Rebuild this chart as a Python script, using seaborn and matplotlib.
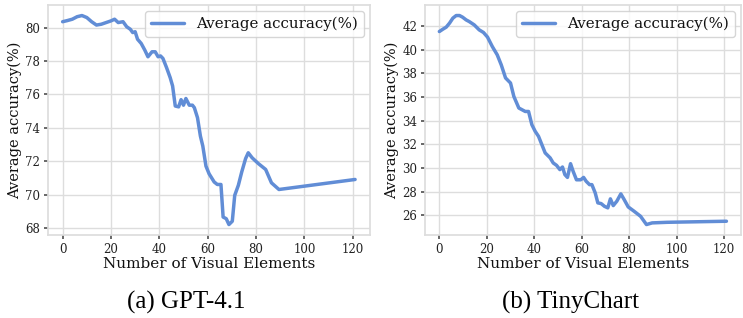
import seaborn as sns
import matplotlib.pyplot as plt
import pandas as pd

# GPT-4.1 (left panel)
gpt_x = [0, 2, 4, 6, 8, 10, 12, 14, 16, 18, 20, 21.5, 23, 25, 26.5, 28, 29, 30, 31,
         32.5, 34, 35.3, 37, 38.3, 39.5, 40.5, 41.5, 43, 44.5, 45.5, 46.6, 48, 49, 50,
         51, 52.4, 53.7, 54.5, 55.8, 57, 58, 59.3, 60.6, 62.7, 64, 65.5, 66.4, 67.7,
         68.8, 70.2, 71.2, 72.7, 74.1, 75.7, 76.8, 78.4, 81, 84, 86.4, 89.5, 121]
gpt_y = [80.35, 80.42, 80.5, 80.65, 80.72, 80.6, 80.35, 80.15, 80.2, 80.3, 80.4, 80.5,
         80.3, 80.35, 80.05, 79.9, 79.7, 79.75, 79.3, 79.05, 78.65, 78.25, 78.55, 78.55,
         78.25, 78.3, 78.15, 77.6, 77.0, 76.5, 75.3, 75.25, 75.68, 75.35, 75.75, 75.35,
         75.35, 75.2, 74.6, 73.5, 72.9, 71.7, 71.24, 70.75, 70.6, 70.6, 68.65, 68.55,
         68.2, 68.4, 69.95, 70.55, 71.35, 72.15, 72.5, 72.2, 71.85, 71.5, 70.7, 70.3, 70.9]

# TinyChart (right panel)
tiny_x = [0, 1.5, 2.9, 4.3, 5.7, 7.1, 8.5, 9.8, 11.3, 12.6, 14.7, 16.8, 18.6, 20.3,
          22.3, 24.4, 26.1, 27.9, 30, 31.4, 33.5, 36.2, 37.6, 39, 40.4, 41.8, 43.2,
          44.6, 46.7, 48, 49.4, 50.8, 51.9, 52.9, 54, 55.3, 56.4, 57.8, 59.6, 60.8,
          61.9, 63.3, 64.3, 65.7, 66.8, 68.2, 69.6, 71, 72.1, 73.3, 74.8, 76.5, 77.9,
          79.6, 82.1, 84.8, 87.3, 89.7, 96, 121]
tiny_y = [41.52, 41.72, 41.89, 42.23, 42.65, 42.87, 42.87, 42.73, 42.5, 42.36, 42.08,
          41.66, 41.44, 41.05, 40.26, 39.55, 38.7, 37.6, 37.17, 36.04, 35.06, 34.77,
          34.77, 33.65, 33.09, 32.67, 31.97, 31.27, 30.85, 30.42, 30.22, 29.86, 30.08,
          29.44, 29.2, 30.36, 29.71, 29.0, 29.0, 29.2, 28.87, 28.59, 28.59, 27.89,
          27.05, 26.99, 26.76, 26.63, 27.39, 26.82, 27.19, 27.81, 27.33, 26.71, 26.34,
          25.92, 25.22, 25.36, 25.41, 25.5]

captions = ['(a) GPT-4.1', '(b) TinyChart']
line_label = 'Average accuracy(%)'
line_color = '#618dd6'

sns.set_theme(style='whitegrid')
plt.rcParams['font.family'] = ['DejaVu Serif']
plt.rcParams.update({'grid.color': '#dddddd', 'axes.edgecolor': '#dddddd',
                     'text.color': '#111111', 'axes.labelcolor': '#111111',
                     'xtick.color': '#222222', 'ytick.color': '#222222'})

fig = plt.figure(figsize=(7.43, 3.18), dpi=100)
ax1 = fig.add_axes([0.0646, 0.261, 0.433, 0.723])
ax2 = fig.add_axes([0.572, 0.261, 0.425, 0.723])

for ax, xs, ys, cap, shift in [(ax1, gpt_x, gpt_y, captions[0], -0.03),
                               (ax2, tiny_x, tiny_y, captions[1], -0.017)]:
    df = pd.DataFrame({'x': xs, 'y': ys})
    sns.lineplot(data=df, x='x', y='y', ax=ax, color=line_color, linewidth=2.5,
                 label=line_label)
    ax.set_xlabel('Number of Visual Elements', fontsize=11, labelpad=1)
    ax.set_ylabel('Average accuracy(%)', fontsize=10.5, labelpad=2)
    ax.tick_params(labelsize=8.5, length=3, color='#555555', pad=2.5,
                   bottom=True, left=True)
    ax.set_xticks([0, 20, 40, 60, 80, 100, 120])
    ax.legend(loc='upper right', fontsize=10.8, frameon=True, handlelength=2.2,
              borderaxespad=0.4)
    bb = ax.get_position()
    fig.text((bb.x0 + bb.x1) / 2 + shift, 0.05, cap, ha='center', va='center',
             fontsize=18, family='Liberation Serif', color='black')

ax1.set_yticks([68, 70, 72, 74, 76, 78, 80])
ax2.set_yticks([26, 28, 30, 32, 34, 36, 38, 40, 42])

fig.savefig('out.png', dpi=100)
